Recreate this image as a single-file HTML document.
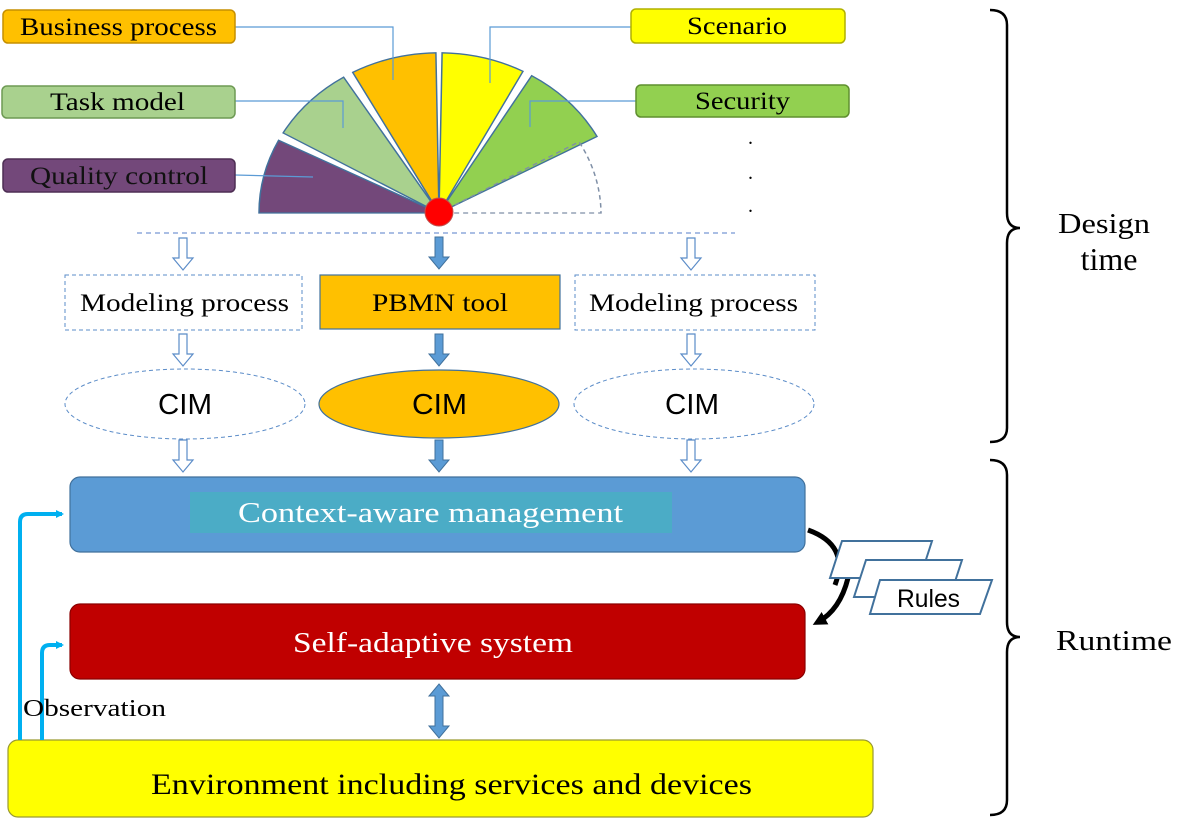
<!DOCTYPE html>
<html><head><meta charset="utf-8"><style>
body{margin:0;background:#fff;}
svg text{font-family:"Liberation Serif",serif;}
svg text.s{font-family:"Liberation Sans",sans-serif;}
</style></head><body>
<svg width="1200" height="822" viewBox="0 0 1200 822" xmlns="http://www.w3.org/2000/svg">
<defs>
<marker id="ah" markerWidth="8" markerHeight="8" refX="6" refY="4" orient="auto" markerUnits="userSpaceOnUse"><path d="M0,0 L8,4 L0,8 z" fill="#00B0F0"/></marker>
<marker id="bk" markerWidth="14" markerHeight="14" refX="8" refY="7" orient="auto" markerUnits="userSpaceOnUse"><path d="M0,0 L14,7 L0,14 z" fill="#000"/></marker>
<g id="hollow"><path d="M-4,0 h8 v20 h6 l-10,12 l-10,-12 h6 z" fill="#fff" stroke="#5B8CC8" stroke-width="1.2"/></g>
<g id="solid"><path d="M-4,0 h8 v20 h6 l-10,12 l-10,-12 h6 z" fill="#5B9BD5" stroke="#41719C" stroke-width="1"/></g>
</defs>

<g transform="translate(439,213) scale(1,0.89)" stroke="#41719C" stroke-width="1.5">
<path d="M0,0 L-180,0 A180,180 0 0 1 -160.4,-81.7 Z" fill="#73487A"/>
<path d="M0,0 L-155.9,-90 A180,180 0 0 1 -95.4,-152.6 Z" fill="#A9D18E"/>
<path d="M0,0 L-86.3,-158 A180,180 0 0 1 -3.1,-180 Z" fill="#FFC000"/>
<path d="M0,0 L3.1,-180 A180,180 0 0 1 84,-159.2 Z" fill="#FFFF00"/>
<path d="M0,0 L92.7,-154.3 A180,180 0 0 1 158,-86 Z" fill="#92D050"/>
<path d="M0,0 L140,-80 A162,162 0 0 1 162,0 Z" fill="none" stroke-dasharray="5,4" stroke="#7F8FA6"/>
</g>
<g stroke="#5B9BD5" stroke-width="1.2" fill="none">
<polyline points="235,27 393,27 393,80"/>
<polyline points="235,101 343,101 343,128"/>
<polyline points="235,175 313,177"/>
<polyline points="631,27 490,27 490,83"/>
<polyline points="636,101 530,101 530,127"/>
</g>
<circle cx="439" cy="212" r="14" fill="#FF0000" stroke="#C0504D"/>

<g font-size="25">
<rect x="3" y="10" width="232" height="33" rx="5" fill="#FFC000" stroke="#C58F00" stroke-width="1.5"/>
<text x="20" y="35" textLength="197" lengthAdjust="spacingAndGlyphs">Business process</text>
<rect x="2" y="86" width="233" height="32" rx="5" fill="#A9D18E" stroke="#6E9A54" stroke-width="1.5"/>
<text x="50" y="110" textLength="135" lengthAdjust="spacingAndGlyphs">Task model</text>
<rect x="3" y="159" width="232" height="33" rx="5" fill="#73487A" stroke="#4E2E54" stroke-width="1.5"/>
<text x="30" y="184" fill="#111" textLength="178" lengthAdjust="spacingAndGlyphs">Quality control</text>
<rect x="631" y="9" width="214" height="34" rx="5" fill="#FFFF00" stroke="#B0B000" stroke-width="1.5"/>
<text x="687" y="34" textLength="100" lengthAdjust="spacingAndGlyphs">Scenario</text>
<rect x="636" y="85" width="213" height="32" rx="5" fill="#92D050" stroke="#5F8F2F" stroke-width="1.5"/>
<text x="695" y="109" textLength="95" lengthAdjust="spacingAndGlyphs">Security</text>
</g>
<g font-size="20"><text x="748" y="144">.</text><text x="748" y="179">.</text><text x="748" y="212">.</text></g>

<line x1="137" y1="233" x2="735" y2="233" stroke="#8EA9DB" stroke-width="1.5" stroke-dasharray="5,4"/>

<use href="#hollow" x="183" y="238"/>
<use href="#solid" x="439" y="237"/>
<use href="#hollow" x="691" y="238"/>

<g font-size="25">
<rect x="65" y="275" width="237" height="55" fill="#fff" stroke="#5B8CC8" stroke-dasharray="4,3"/>
<text x="80" y="311" textLength="209" lengthAdjust="spacingAndGlyphs">Modeling process</text>
<rect x="320" y="275" width="240" height="54" fill="#FFC000" stroke="#41719C" stroke-width="1.2"/>
<text x="372" y="311" textLength="136" lengthAdjust="spacingAndGlyphs">PBMN tool</text>
<rect x="575" y="275" width="240" height="55" fill="#fff" stroke="#5B8CC8" stroke-dasharray="4,3"/>
<text x="589" y="311" textLength="209" lengthAdjust="spacingAndGlyphs">Modeling process</text>
</g>

<use href="#hollow" x="183" y="334"/>
<use href="#solid" x="439" y="334"/>
<use href="#hollow" x="691" y="334"/>

<g font-size="29">
<ellipse cx="185" cy="404" rx="120" ry="35" fill="#fff" stroke="#5B8CC8" stroke-dasharray="4,3"/>
<text class="s" x="158" y="414" textLength="54" lengthAdjust="spacingAndGlyphs">CIM</text>
<ellipse cx="439" cy="404" rx="120" ry="34" fill="#FFC000" stroke="#41719C" stroke-width="1.2"/>
<text class="s" x="412" y="414" textLength="55" lengthAdjust="spacingAndGlyphs">CIM</text>
<ellipse cx="694" cy="404" rx="120" ry="35" fill="#fff" stroke="#5B8CC8" stroke-dasharray="4,3"/>
<text class="s" x="665" y="414" textLength="54" lengthAdjust="spacingAndGlyphs">CIM</text>
</g>

<use href="#hollow" x="183" y="440"/>
<use href="#solid" x="439" y="440"/>
<use href="#hollow" x="691" y="440"/>

<rect x="70" y="477" width="735" height="75" rx="10" fill="#5B9BD5" stroke="#41719C" stroke-width="1.2"/>
<rect x="190" y="492" width="482" height="41" fill="#4BACC6"/>
<text x="238" y="522" font-size="29" fill="#fff" textLength="385" lengthAdjust="spacingAndGlyphs">Context-aware management</text>

<rect x="70" y="604" width="735" height="75" rx="10" fill="#C00000" stroke="#8B0000" stroke-width="1.2"/>
<text x="293" y="652" font-size="29" fill="#fff" textLength="280" lengthAdjust="spacingAndGlyphs">Self-adaptive system</text>

<path d="M439,684 l10,12 h-6 v30 h6 l-10,12 l-10,-12 h6 v-30 h-6 z" fill="#5B9BD5" stroke="#41719C"/>

<rect x="8" y="740" width="865" height="77" rx="10" fill="#FFFF00" stroke="#9A9A30" stroke-width="1.2"/>
<text x="151" y="794" font-size="30" textLength="601" lengthAdjust="spacingAndGlyphs">Environment including services and devices</text>

<g stroke="#00B0F0" stroke-width="4" fill="none">
<path d="M20,740 V522 Q20,514 28,514 H62" marker-end="url(#ah)"/>
<path d="M42,740 V653 Q42,645 50,645 H62" marker-end="url(#ah)"/>
</g>
<text x="23" y="716" font-size="24" textLength="143" lengthAdjust="spacingAndGlyphs">Observation</text>

<path d="M808,530 Q850,545 835,585" stroke="#000" stroke-width="5" fill="none"/>
<path d="M848,578 Q840,610 818,622" stroke="#000" stroke-width="5" fill="none" marker-end="url(#bk)"/>
<g fill="#fff" stroke="#41719C" stroke-width="2">
<polygon points="842,541 932,541 920,578 830,578"/>
<polygon points="866,560 962,560 950,597 854,597"/>
<polygon points="880,580 992,580 980,614 870,614"/>
</g>
<text class="s" x="897" y="607" font-size="25" textLength="63" lengthAdjust="spacingAndGlyphs">Rules</text>

<g stroke="#000" stroke-width="2.5" fill="none">
<path d="M990,10 Q1007,10 1007,25 V213 Q1007,228 1020,228 Q1007,228 1007,243 V428 Q1007,442 990,442"/>
<path d="M990,460 Q1007,460 1007,475 V622 Q1007,637 1020,637 Q1007,637 1007,652 V800 Q1007,815 990,815"/>
</g>
<text x="1058" y="233" font-size="28" textLength="92" lengthAdjust="spacingAndGlyphs">Design</text>
<text x="1109" y="270" font-size="32" text-anchor="middle">time</text>
<text x="1056" y="650" font-size="28" textLength="116" lengthAdjust="spacingAndGlyphs">Runtime</text>
</svg>
</body></html>
